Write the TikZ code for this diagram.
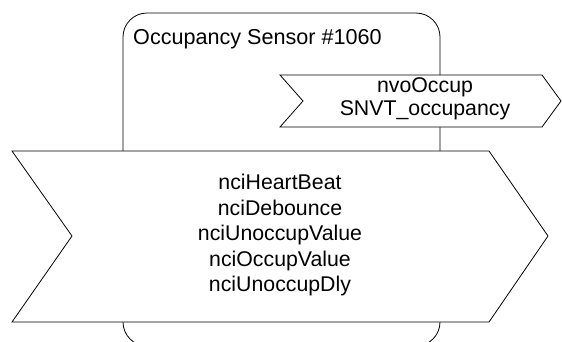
\documentclass[tikz,border=0pt]{standalone}
\usepackage{fontspec}
\setmainfont{Liberation Sans}
\begin{document}
\begin{tikzpicture}[x=1bp,y=-1bp,
  shapeline/.style={draw=black,line width=0.8bp,fill=white,line join=miter},
  labeltext/.style={font=\fontsize{21.3bp}{25.5bp}\selectfont,inner sep=0pt,align=center},
  smalltext/.style={font=\fontsize{21.3bp}{23bp}\selectfont,inner sep=0pt,align=center}]
\useasboundingbox (0,0) rectangle (562,341);
\clip (0,0) rectangle (562,341);
% device box
\draw[shapeline,rounded corners=24bp] (123,13) rectangle (440,346);
\node[anchor=base west,font=\fontsize{21.6bp}{25bp}\selectfont,inner sep=0pt] (title) at (133,44) {Occupancy Sensor \#1060};
% output variable
\draw[shapeline] (280,75) -- (542,75) -- (561,101) -- (542,127) -- (280,127) -- (303,101) -- cycle;
\node[smalltext] (nvo) at (425,98.5) {nvoOccup\\SNVT\_occupancy};
% config properties
\draw[shapeline] (12,151) -- (489,151) -- (548,236) -- (489,322) -- (12,322) -- (72,236) -- cycle;
\node[labeltext] (nci) at (280,235) {nciHeartBeat\\nciDebounce\\nciUnoccupValue\\nciOccupValue\\nciUnoccupDly};
\end{tikzpicture}
\end{document}
